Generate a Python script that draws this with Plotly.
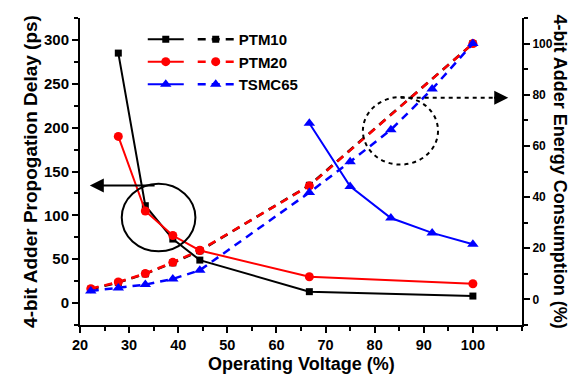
import plotly.graph_objects as go

# Data
ptm_delay_x = [27.8, 33.3, 38.9, 44.4, 66.7, 100]
ptm10_delay = [285, 111, 73, 49, 13, 8]
ptm20_delay = [190, 105, 77, 60, 30, 22]
tsmc_delay_x = [66.7, 75, 83.3, 91.7, 100]
tsmc65_delay = [205, 133, 97, 80, 67]

ptm_energy_x = [22.2, 27.8, 33.3, 38.9, 44.4, 66.7, 100]
ptm10_energy = [4.0, 6.6, 10.0, 14.3, 19.0, 44.6, 100]
ptm20_energy = [4.2, 6.8, 10.1, 14.5, 19.2, 44.4, 100]
tsmc_energy_x = [22.2, 27.8, 33.3, 38.9, 44.4, 66.7, 75, 83.3, 91.7, 100]
tsmc65_energy = [3.3, 4.5, 5.8, 8.0, 11.4, 41.8, 53.8, 66.3, 82.2, 100]

x_ticks = [20, 30, 40, 50, 60, 70, 80, 90, 100]
delay_ticks = [0, 50, 100, 150, 200, 250, 300]
energy_ticks = [0, 20, 40, 60, 80, 100]

names = ["PTM10", "PTM20", "TSMC65"]
colors = ["black", "red", "blue"]
symbols = ["square", "circle", "triangle-up"]
msize = [7, 9, 10]

FONT = "Liberation Sans, Arial, sans-serif"

fig = go.Figure()

energy = [(ptm_energy_x, ptm10_energy), (ptm_energy_x, ptm20_energy), (tsmc_energy_x, tsmc65_energy)]
delay = [(ptm_delay_x, ptm10_delay), (ptm_delay_x, ptm20_delay), (tsmc_delay_x, tsmc65_delay)]

for i in range(3):
    fig.add_trace(go.Scatter(
        x=delay[i][0], y=delay[i][1], mode="lines+markers", name=" ",
        line=dict(color=colors[i], width=2),
        marker=dict(symbol=symbols[i], size=msize[i], color=colors[i]),
        legend="legend", yaxis="y"))

for i in range(3):
    fig.add_trace(go.Scatter(
        x=energy[i][0], y=energy[i][1], mode="lines+markers", name=names[i],
        line=dict(color=colors[i], width=2.5, dash="8px,6px"),
        marker=dict(symbol=symbols[i], size=msize[i], color=colors[i]),
        legend="legend2", yaxis="y2"))

# Annotation shapes (data coordinates)
fig.add_shape(type="circle", xref="x", yref="y", x0=28.5, x1=43.5, y0=59, y1=136,
              line=dict(color="black", width=2))
fig.add_shape(type="circle", xref="x", yref="y2", x0=77.6, x1=92.9, y0=52.7, y1=79.1,
              line=dict(color="black", width=2, dash="4px,4px"))
fig.add_shape(type="line", xref="x", yref="y2", x0=85.3, x1=104.5, y0=78.8, y1=78.8,
              line=dict(color="black", width=2, dash="4px,4px"))

fig.add_annotation(x=22.0, y=134, xref="x", yref="y", ax=35.5, ay=134, axref="x", ayref="y",
                   showarrow=True, arrowhead=2, arrowsize=1.4, arrowwidth=2, arrowcolor="black", text="")
fig.add_annotation(x=107.2, y=78.8, xref="x", yref="y2", ax=104.0, ay=78.8, axref="x", ayref="y2",
                   showarrow=True, arrowhead=2, arrowsize=1.4, arrowwidth=2, arrowcolor="black", text="")

# Right axis title rotated like the reference
fig.add_annotation(x=1.0, y=0.5, xref="paper", yref="paper", xanchor="center", yanchor="middle",
                   xshift=38, text="4-bit Adder Energy Consumption (%)", textangle=90, showarrow=False,
                   font=dict(family=FONT, size=18, color="black", weight="bold"))
# X axis title
fig.add_annotation(x=0.5, y=0.0, xref="paper", yref="paper", xanchor="center", yanchor="bottom",
                   yshift=-50, text="Operating Voltage (%)", showarrow=False, borderpad=0,
                   font=dict(family=FONT, size=18, color="black", weight="bold"))

fig.update_layout(
    width=586, height=375,
    margin=dict(l=80, r=64, t=18, b=50),
    plot_bgcolor="white", paper_bgcolor="white",
    font=dict(family=FONT, color="black"),
    xaxis=dict(range=[20, 110], tickvals=x_ticks, automargin=False,
               ticks="outside", ticklen=6, tickwidth=2, tickcolor="black",
               minor=dict(dtick=5, tick0=0, ticks="outside", ticklen=4, tickwidth=1.5, tickcolor="black"),
               showline=True, linewidth=2, linecolor="black", showgrid=False, zeroline=False,
               tickfont=dict(size=14.5, weight="bold")),
    yaxis=dict(range=[-25, 325], tickvals=delay_ticks, automargin=False,
               ticks="outside", ticklen=6, tickwidth=2, tickcolor="black",
               minor=dict(dtick=25, tick0=0, ticks="outside", ticklen=4, tickwidth=1.5, tickcolor="black"),
               showline=True, linewidth=2, linecolor="black", showgrid=False, zeroline=False,
               tickfont=dict(size=15, weight="bold"),
               title=dict(text="4-bit Adder Propogation Delay (ps)", font=dict(size=19, weight="bold"), standoff=1)),
    yaxis2=dict(range=[-10, 110], tickvals=energy_ticks, overlaying="y", side="right", automargin=False,
                ticks="outside", ticklen=6, tickwidth=2, tickcolor="black",
                minor=dict(dtick=10, tick0=0, ticks="outside", ticklen=4, tickwidth=1.5, tickcolor="black"),
                showline=True, linewidth=2, linecolor="black", showgrid=False, zeroline=False,
                tickfont=dict(size=12, weight="bold")),
    legend=dict(x=0.142, y=0.984, xanchor="left", yanchor="top", bgcolor="rgba(0,0,0,0)",
                font=dict(size=15, weight="bold"), tracegroupgap=0, itemwidth=36),
    legend2=dict(x=0.255, y=0.984, xanchor="left", yanchor="top", bgcolor="rgba(0,0,0,0)",
                 font=dict(size=15, weight="bold"), tracegroupgap=0, itemwidth=36),
    showlegend=True,
)

fig.write_html("out.html")
